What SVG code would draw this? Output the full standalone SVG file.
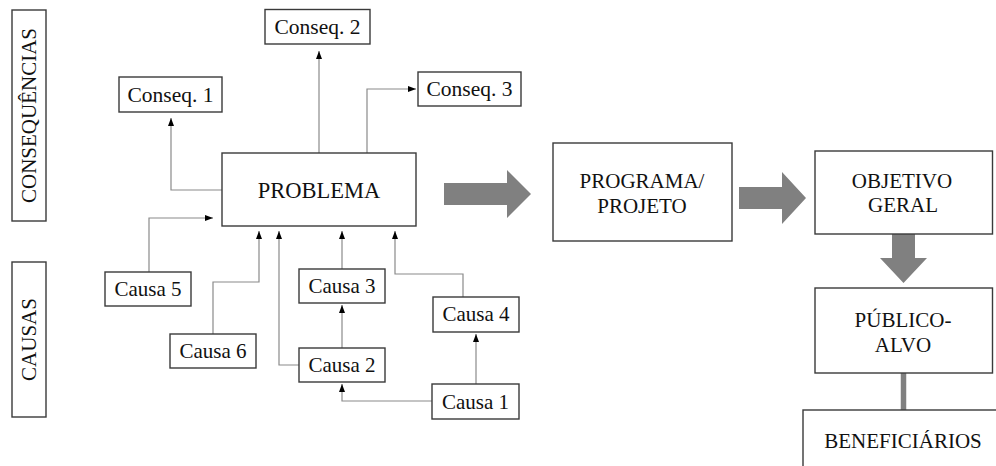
<svg xmlns="http://www.w3.org/2000/svg" width="996" height="466" viewBox="0 0 996 466">
<style>
  .box{fill:#fff;stroke:#3a3a3a;stroke-width:1.4}
  .t{font-family:"Liberation Serif","Times New Roman",serif;font-size:21.5px;fill:#111;text-anchor:middle}
  .tp{font-size:22.5px}
  .tr{font-size:21px}
  .c{fill:none;stroke:#8a8a8a;stroke-width:1.2}
  .big{fill:#808080}
</style>
<defs>
  <marker id="ah" viewBox="0 0 8 6" refX="8" refY="3" markerWidth="8" markerHeight="6" markerUnits="userSpaceOnUse" orient="auto">
    <path d="M0,0 L8,3 L0,6 Z" fill="#000"/>
  </marker>
</defs>
<rect width="996" height="466" fill="#fff"/>

<g id="label-consequencias">
  <rect class="box" x="12" y="10" width="34" height="211"/>
  <text class="t tr" transform="translate(36,115.5) rotate(-90)">CONSEQUÊNCIAS</text>
</g>
<g id="label-causas">
  <rect class="box" x="12" y="262" width="34" height="155"/>
  <text class="t tr" transform="translate(36,339.5) rotate(-90)">CAUSAS</text>
</g>

<g id="connectors">
  <path class="c" d="M222,190 H171 V118" marker-end="url(#ah)"/>
  <path class="c" d="M319,153 V51" marker-end="url(#ah)"/>
  <path class="c" d="M367,153 V89 H416" marker-end="url(#ah)"/>
  <path class="c" d="M149,272 V218 H213" marker-end="url(#ah)"/>
  <path class="c" d="M213,334 V282 H259 V231" marker-end="url(#ah)"/>
  <path class="c" d="M299,365 H279 V231" marker-end="url(#ah)"/>
  <path class="c" d="M342,269 V231" marker-end="url(#ah)"/>
  <path class="c" d="M463,297 V274 H395 V231" marker-end="url(#ah)"/>
  <path class="c" d="M342,348 V305" marker-end="url(#ah)"/>
  <path class="c" d="M476,384 V334" marker-end="url(#ah)"/>
  <path class="c" d="M432,401 H342 V384" marker-end="url(#ah)"/>
  <polygon class="big" points="444,183 507,183 507,170 531,194 507,218 507,205 444,205"/>
  <polygon class="big" points="739,187 782,187 782,172 806,198 782,224 782,209 739,209"/>
  <polygon class="big" points="892,234 915,234 915,258 927,258 903.5,283 880,258 892,258"/>
  <line x1="903.5" y1="373" x2="903.5" y2="410" stroke="#808080" stroke-width="5.5"/>
</g>

<g id="conseq1"><rect class="box" x="119" y="77" width="103" height="35"/><text class="t" x="170.5" y="101.5">Conseq. 1</text></g>
<g id="conseq2"><rect class="box" x="265" y="9.5" width="105" height="34.5"/><text class="t" x="317.5" y="33.5">Conseq. 2</text></g>
<g id="conseq3"><rect class="box" x="418" y="72" width="103" height="34"/><text class="t" x="469.5" y="96">Conseq. 3</text></g>

<g id="problema"><rect class="box" x="222" y="153" width="194" height="73"/><text class="t tp" x="319" y="198">PROBLEMA</text></g>

<g id="causa5"><rect class="box" x="105" y="272" width="86" height="34"/><text class="t tr" x="148" y="296">Causa 5</text></g>
<g id="causa6"><rect class="box" x="170" y="334" width="86" height="34"/><text class="t tr" x="213" y="358">Causa 6</text></g>
<g id="causa3"><rect class="box" x="299" y="269" width="86" height="34"/><text class="t tr" x="342" y="293">Causa 3</text></g>
<g id="causa2"><rect class="box" x="299" y="348" width="86" height="34"/><text class="t tr" x="342" y="372">Causa 2</text></g>
<g id="causa4"><rect class="box" x="433" y="297" width="86" height="35"/><text class="t tr" x="476" y="321">Causa 4</text></g>
<g id="causa1"><rect class="box" x="432" y="384" width="87" height="35"/><text class="t tr" x="475.5" y="409">Causa 1</text></g>

<g id="programa"><rect class="box" x="553" y="143" width="179" height="98"/><text class="t tr" x="642" y="188">PROGRAMA/</text><text class="t tr" x="642" y="213">PROJETO</text></g>
<g id="objetivo"><rect class="box" x="815" y="151" width="177.5" height="83"/><text class="t tr" x="902" y="188">OBJETIVO</text><text class="t tr" x="903" y="212">GERAL</text></g>
<g id="publico"><rect class="box" x="815" y="288" width="177.5" height="85"/><text class="t tr" x="903" y="327">PÚBLICO-</text><text class="t tr" x="903" y="352">ALVO</text></g>
<g id="beneficiarios"><rect class="box" x="803" y="410" width="200" height="70"/><text class="t tr" x="903" y="448">BENEFICIÁRIOS</text></g>
</svg>
